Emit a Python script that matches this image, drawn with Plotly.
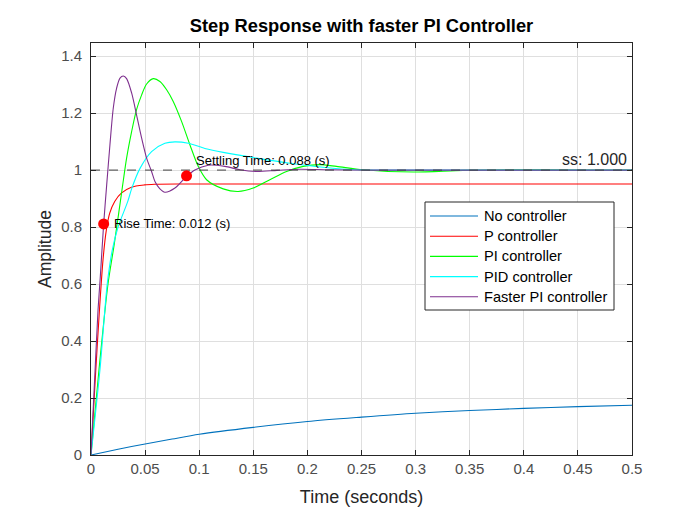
import plotly.graph_objects as go

# ---------------- data ----------------
t_none = [0, 0.025, 0.05, 0.075, 0.1, 0.15, 0.2, 0.25, 0.3, 0.35, 0.4, 0.45, 0.5]
y_none = [0, 0.020, 0.0388, 0.056, 0.0727, 0.097, 0.1176, 0.133, 0.1467, 0.156, 0.1636, 0.1697, 0.1745]

t_p = [0, 0.0043, 0.0080, 0.0111, 0.0142, 0.0173, 0.0219, 0.028, 0.0373, 0.0496, 0.0588, 0.08, 0.15, 0.3, 0.5]
y_p = [0, 0.29, 0.52, 0.685, 0.79, 0.849, 0.890, 0.919, 0.940, 0.948, 0.950, 0.951, 0.951, 0.951, 0.951]

t_pi = [0, 0.0074, 0.0157, 0.0215, 0.029, 0.0329, 0.0376, 0.0421, 0.0468, 0.0514, 0.0576, 0.0637,
        0.0699, 0.076, 0.0837, 0.0914, 0.0991, 0.1068, 0.1222, 0.136, 0.1499, 0.1653, 0.1807,
        0.1961, 0.2114, 0.2268, 0.2514, 0.2977, 0.344, 0.39, 0.45, 0.5]
y_pi = [0, 0.30, 0.60, 0.74, 0.94, 1.042, 1.136, 1.212, 1.264, 1.302, 1.321, 1.311,
        1.282, 1.241, 1.171, 1.089, 1.013, 0.966, 0.934, 0.925, 0.937, 0.966, 0.995,
        1.013, 1.019, 1.013, 1.001, 0.993, 0.999, 1.001, 1.0, 1.0]

t_pid = [0, 0.0083, 0.015, 0.0197, 0.025, 0.034, 0.0376, 0.0453, 0.056, 0.0683, 0.0776, 0.09,
         0.1052, 0.1222, 0.153, 0.1838, 0.2145, 0.2453, 0.28, 0.35, 0.5]
y_pid = [0, 0.30, 0.60, 0.72, 0.80, 0.89, 0.935, 1.006, 1.065, 1.094, 1.099, 1.094,
         1.076, 1.062, 1.042, 1.024, 1.010, 1.001, 1.0, 1.0, 1.0]

t_fpi = [0, 0.0038, 0.0065, 0.0085, 0.0117, 0.0145, 0.0175, 0.0206, 0.0237, 0.0268, 0.0299,
         0.0329, 0.0376, 0.0421, 0.0468, 0.0514, 0.056, 0.0591, 0.0635, 0.0683, 0.0776, 0.0868,
         0.096, 0.1084, 0.1237, 0.1376, 0.153, 0.172, 0.193, 0.22, 0.26, 0.3, 0.4, 0.5]
y_fpi = [0, 0.30, 0.509, 0.62, 0.811, 0.948, 1.089, 1.218, 1.288, 1.323, 1.330,
         1.321, 1.270, 1.194, 1.112, 1.042, 0.995, 0.960, 0.935, 0.922, 0.937, 0.972,
         1.0, 1.017, 1.013, 1.001, 0.995, 0.999, 1.003, 1.001, 1.0, 1.0, 1.0, 1.0]

series_names = ["No controller", "P controller", "PI controller", "PID controller", "Faster PI controller"]
series_colors = ["#0072BD", "#FF0000", "#00FF00", "#00FFFF", "#7E2F8E"]

ss_value = 1.0
rise_time, rise_amp = 0.0117, 0.811
settle_time, settle_amp = 0.0883, 0.98

x_ticks = [0, 0.05, 0.1, 0.15, 0.2, 0.25, 0.3, 0.35, 0.4, 0.45, 0.5]
x_tick_text = ["0", "0.05", "0.1", "0.15", "0.2", "0.25", "0.3", "0.35", "0.4", "0.45", "0.5"]
y_ticks = [0, 0.2, 0.4, 0.6, 0.8, 1.0, 1.2, 1.4]
y_tick_text = ["0", "0.2", "0.4", "0.6", "0.8", "1", "1.2", "1.4"]

# ---------------- figure ----------------
FONT = "Liberation Sans, Arial, Helvetica, sans-serif"
W, H = 700, 525
ML, MR, MT, MB = 91, 68, 43, 70
PW, PH = W - ML - MR, H - MT - MB


def px_x(px):
    return (px - ML) / PW


def px_y(py):
    return (H - MB - py) / PH


fig = go.Figure()

all_t = [t_none, t_p, t_pi, t_pid, t_fpi]
all_y = [y_none, y_p, y_pi, y_pid, y_fpi]
for tt, yy, nm, col in zip(all_t, all_y, series_names, series_colors):
    fig.add_trace(go.Scatter(x=tt, y=yy, mode="lines", name=nm, showlegend=False,
                             line=dict(color=col, width=1.1, shape="spline", smoothing=0.8)))

# steady-state dashed line
fig.add_trace(go.Scatter(x=[x_ticks[0], x_ticks[-1]], y=[ss_value, ss_value], mode="lines",
                         line=dict(color="#404040", width=1, dash="dash"), showlegend=False,
                         hoverinfo="skip"))

# markers
fig.add_trace(go.Scatter(x=[rise_time, settle_time], y=[rise_amp, settle_amp], mode="markers",
                         marker=dict(color="#FF0000", size=11), showlegend=False))

fig.add_annotation(x=rise_time, y=rise_amp, text="Rise Time: 0.012 (s)", showarrow=False,
                   xanchor="left", yanchor="middle", xshift=8,
                   font=dict(family=FONT, size=13, color="#000000"))
fig.add_annotation(x=settle_time, y=settle_amp, text="Settling Time: 0.088 (s)", showarrow=False,
                   xanchor="left", yanchor="bottom", xshift=7, yshift=6,
                   font=dict(family=FONT, size=13, color="#000000"))
fig.add_annotation(x=x_ticks[-1], y=ss_value, text="ss: 1.000", showarrow=False,
                   xanchor="right", yanchor="bottom", xshift=-3, yshift=0,
                   font=dict(family=FONT, size=16, color="#262626"))

# legend drawn manually (box, line samples, labels)
LEG_L, LEG_R, LEG_T, LEG_B = 425, 614, 202, 310
ROW0, ROWSTEP = 216, 20.2
fig.add_shape(type="rect", xref="paper", yref="paper",
              x0=px_x(LEG_L), x1=px_x(LEG_R), y0=px_y(LEG_B), y1=px_y(LEG_T),
              line=dict(color="#262626", width=1), fillcolor="white", layer="above")
for i, (nm, col) in enumerate(zip(series_names, series_colors)):
    ry = ROW0 + i * ROWSTEP
    fig.add_shape(type="line", xref="paper", yref="paper",
                  x0=px_x(430), x1=px_x(478), y0=px_y(ry), y1=px_y(ry),
                  line=dict(color=col, width=1.1), layer="above")
    fig.add_annotation(xref="paper", yref="paper", x=px_x(482), y=px_y(ry), text=nm,
                       showarrow=False, xanchor="left", yanchor="middle",
                       font=dict(family=FONT, size=14.6, color="#000000"))

fig.update_layout(
    width=W, height=H,
    margin=dict(l=ML, r=MR, t=MT, b=MB),
    paper_bgcolor="white", plot_bgcolor="white",
    font=dict(family=FONT, color="#262626"),
    title=dict(text="<b>Step Response with faster PI Controller</b>", xref="paper", x=0.5,
               xanchor="center", y=1 - 26 / H, yanchor="middle",
               font=dict(family=FONT, size=18.3, color="#000000")),
    showlegend=False,
)
fig.update_xaxes(range=[0, 0.5], tickvals=x_ticks, ticktext=x_tick_text,
                 showgrid=True, gridcolor="#DFDFDF", gridwidth=1,
                 showline=True, linecolor="#262626", linewidth=1, mirror="ticks",
                 ticks="inside", ticklen=5, tickcolor="#262626", zeroline=False,
                 tickfont=dict(family=FONT, size=15, color="#4D4D4D"),
                 title=dict(text="Time (seconds)", standoff=14,
                            font=dict(family=FONT, size=18, color="#262626")))
fig.update_yaxes(range=[0, 1.446], tickvals=y_ticks, ticktext=y_tick_text,
                 showgrid=True, gridcolor="#DFDFDF", gridwidth=1,
                 showline=True, linecolor="#262626", linewidth=1, mirror="ticks",
                 ticks="inside", ticklen=5, tickcolor="#262626", zeroline=False,
                 ticklabelstandoff=5,
                 tickfont=dict(family=FONT, size=15, color="#4D4D4D"),
                 title=dict(text="Amplitude", standoff=5,
                            font=dict(family=FONT, size=17.5, color="#262626")))

fig.write_html("out.html")
